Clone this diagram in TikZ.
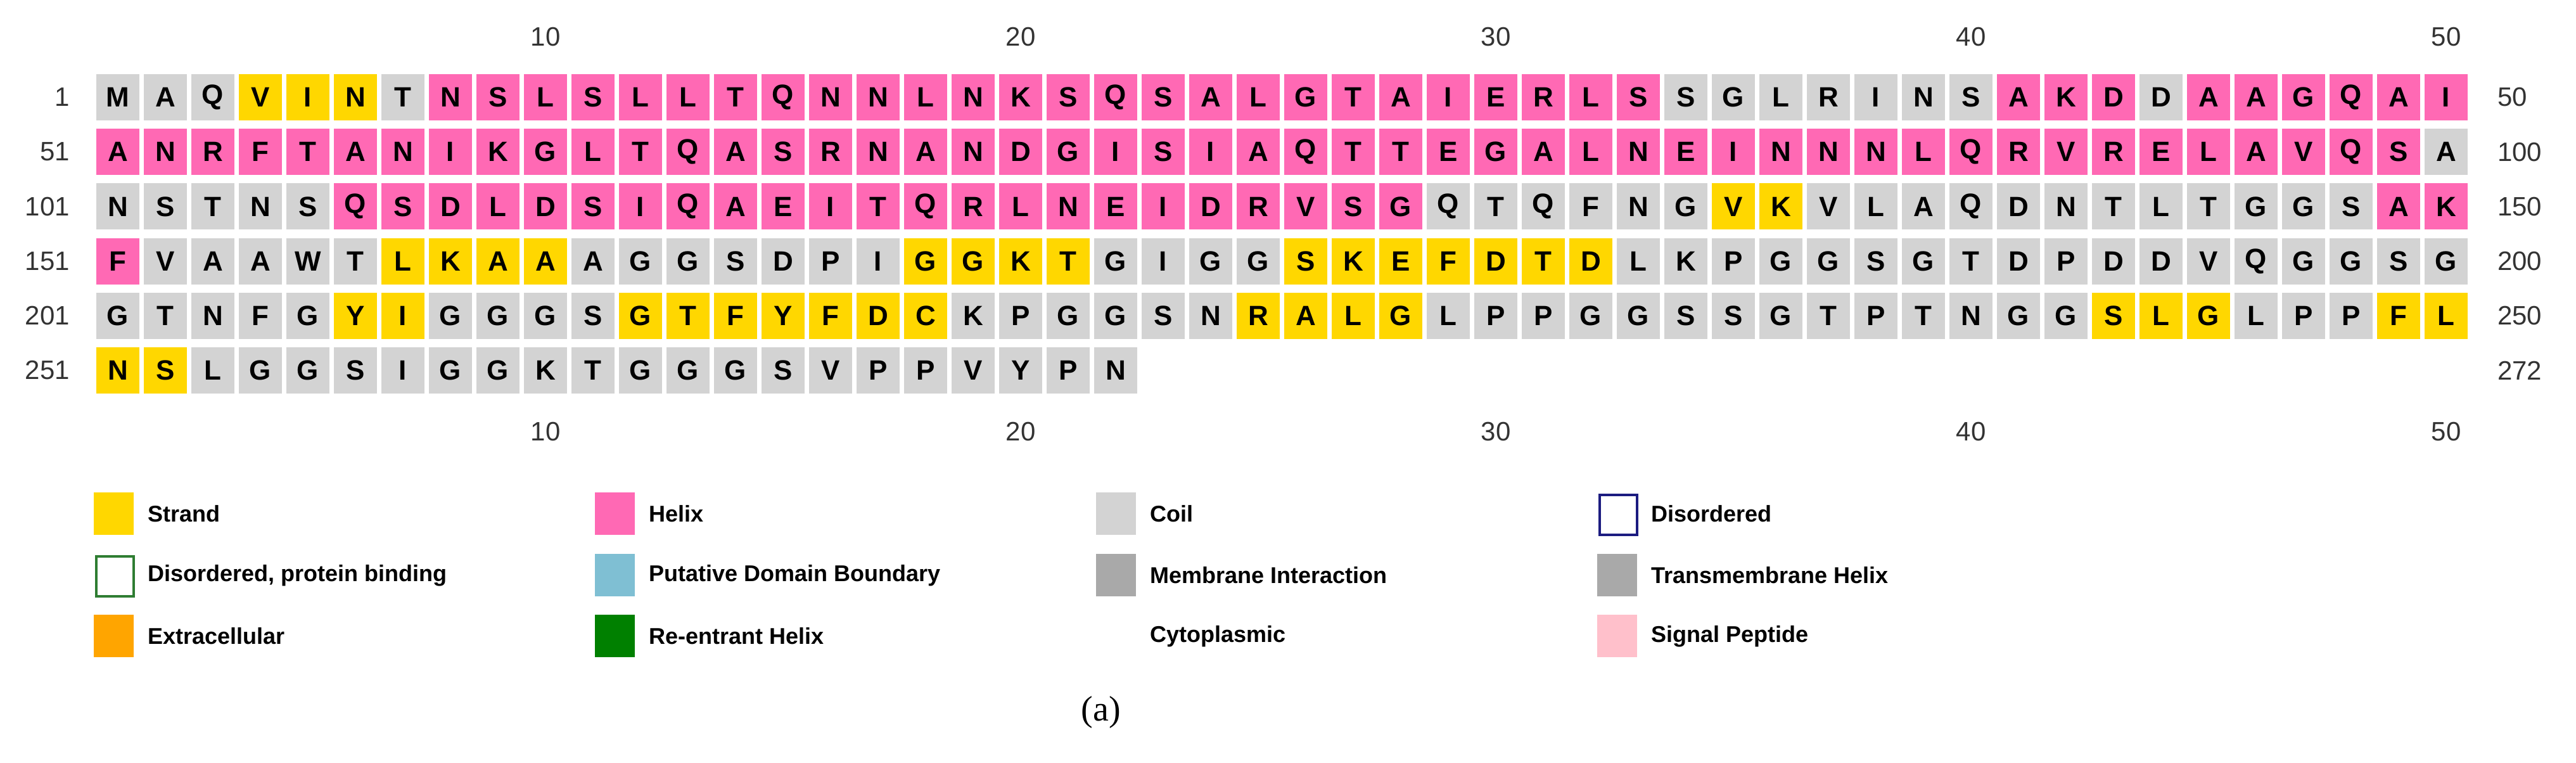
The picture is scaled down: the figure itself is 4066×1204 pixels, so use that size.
\documentclass[tikz,border=0pt]{standalone}
\usepackage{fontspec}
\setmainfont{Liberation Sans}
\newfontfamily\serifA{Liberation Serif}
\definecolor{strandc}{HTML}{FFD700}
\definecolor{helixc}{HTML}{FF69B4}
\definecolor{coilc}{HTML}{D3D3D3}
\definecolor{numc}{HTML}{333333}
\definecolor{navyc}{HTML}{1C1C80}
\definecolor{greenb}{HTML}{2E7D32}
\definecolor{putc}{HTML}{7FBFD3}
\definecolor{memc}{HTML}{A9A9A9}
\definecolor{extc}{HTML}{FFA500}
\definecolor{reentc}{HTML}{008000}
\definecolor{sigc}{HTML}{FFC0CB}
\tikzset{
 cell/.style={minimum width=68pt,minimum height=73pt,inner sep=0pt,font=\fontsize{44}{44}\selectfont\bfseries},
 c/.style={cell,fill=coilc},
 h/.style={cell,fill=helixc},
 e/.style={cell,fill=strandc},
 num/.style={font=\fontsize{42}{42}\selectfont,text=numc,inner sep=0pt},
 sw/.style={minimum width=63pt,minimum height=67pt,inner sep=0pt,anchor=north west},
 lg/.style={font=\fontsize{36}{36}\selectfont\bfseries,anchor=west,inner sep=0pt}
}
\newcommand{\seqrow}[2]{%
 \foreach \l/\t [count=\j] in {#2}{
  \node[\t] (r#1c\j) at ({186+75*(\j-1)},{153.5+86.2*(#1-1)}) {\l};
 }}
\begin{document}
\begin{tikzpicture}[x=1pt,y=-1pt]
\useasboundingbox (0,0) rectangle (4066,1204);
\fill[white] (0,0) rectangle (4066,1204);
\seqrow{1}{M/c,A/c,Q/c,V/e,I/e,N/e,T/c,N/h,S/h,L/h,S/h,L/h,L/h,T/h,Q/h,N/h,N/h,L/h,N/h,K/h,S/h,Q/h,S/h,A/h,L/h,G/h,T/h,A/h,I/h,E/h,R/h,L/h,S/h,S/c,G/c,L/c,R/c,I/c,N/c,S/c,A/h,K/h,D/h,D/c,A/h,A/h,G/h,Q/h,A/h,I/h}
\seqrow{2}{A/h,N/h,R/h,F/h,T/h,A/h,N/h,I/h,K/h,G/h,L/h,T/h,Q/h,A/h,S/h,R/h,N/h,A/h,N/h,D/h,G/h,I/h,S/h,I/h,A/h,Q/h,T/h,T/h,E/h,G/h,A/h,L/h,N/h,E/h,I/h,N/h,N/h,N/h,L/h,Q/h,R/h,V/h,R/h,E/h,L/h,A/h,V/h,Q/h,S/h,A/c}
\seqrow{3}{N/c,S/c,T/c,N/c,S/c,Q/h,S/h,D/h,L/h,D/h,S/h,I/h,Q/h,A/h,E/h,I/h,T/h,Q/h,R/h,L/h,N/h,E/h,I/h,D/h,R/h,V/h,S/h,G/h,Q/c,T/c,Q/c,F/c,N/c,G/c,V/e,K/e,V/c,L/c,A/c,Q/c,D/c,N/c,T/c,L/c,T/c,G/c,G/c,S/c,A/h,K/h}
\seqrow{4}{F/h,V/c,A/c,A/c,W/c,T/c,L/e,K/e,A/e,A/e,A/c,G/c,G/c,S/c,D/c,P/c,I/c,G/e,G/e,K/e,T/e,G/c,I/c,G/c,G/c,S/e,K/e,E/e,F/e,D/e,T/e,D/e,L/c,K/c,P/c,G/c,G/c,S/c,G/c,T/c,D/c,P/c,D/c,D/c,V/c,Q/c,G/c,G/c,S/c,G/c}
\seqrow{5}{G/c,T/c,N/c,F/c,G/c,Y/e,I/e,G/c,G/c,G/c,S/c,G/e,T/e,F/e,Y/e,F/e,D/e,C/e,K/c,P/c,G/c,G/c,S/c,N/c,R/e,A/e,L/e,G/e,L/c,P/c,P/c,G/c,G/c,S/c,S/c,G/c,T/c,P/c,T/c,N/c,G/c,G/c,S/e,L/e,G/e,L/c,P/c,P/c,F/e,L/e}
\seqrow{6}{N/e,S/e,L/c,G/c,G/c,S/c,I/c,G/c,G/c,K/c,T/c,G/c,G/c,G/c,S/c,V/c,P/c,P/c,V/c,Y/c,P/c,N/c}
\foreach \k in {10,20,30,40,50}{
 \node[num] (top\k) at ({186+75*(\k-1)},58) {\k};
 \node[num] (bot\k) at ({186+75*(\k-1)},681) {\k};
}
\foreach \a/\b [count=\r] in {1/50,51/100,101/150,151/200,201/250,251/272}{
 \node[num,anchor=east] (ln\r) at (110,{153.5+86.2*(\r-1)}) {\a};
 \node[num,anchor=west] (rn\r) at (3942,{153.5+86.2*(\r-1)}) {\b};
}
% legend
\node[sw,fill=strandc] (s1) at (148,777) {};
\node[lg] (t1) at (233,811) {Strand};
\node[sw,fill=helixc] (s2) at (939,777) {};
\node[lg] (t2) at (1024,811) {Helix};
\node[sw,fill=coilc] (s3) at (1730,777) {};
\node[lg] (t3) at (1815,811) {Coil};
\node[sw,draw=navyc,line width=4pt,minimum width=59pt,minimum height=63pt] (s4) at (2523,779) {};
\node[lg] (t4) at (2606,811) {Disordered};
\node[sw,draw=greenb,line width=4pt,minimum width=59pt,minimum height=63pt] (s5) at (150,876) {};
\node[lg] (t5) at (233,908) {Disordered, protein binding};
\node[sw,fill=putc] (s6) at (939,874) {};
\node[lg] (t6) at (1024,908) {Putative Domain Boundary};
\node[sw,fill=memc] (s7) at (1730,874) {};
\node[lg] (t7) at (1815,908) {Membrane Interaction};
\node[sw,fill=memc] (s8) at (2521,874) {};
\node[lg] (t8) at (2606,908) {Transmembrane Helix};
\node[sw,fill=extc] (s9) at (148,970) {};
\node[lg] (t9) at (233,1004) {Extracellular};
\node[sw,fill=reentc] (s10) at (939,970) {};
\node[lg] (t10) at (1024,1004) {Re-entrant Helix};
\node[lg] (t11) at (1815,1004) {Cytoplasmic};
\node[sw,fill=sigc] (s12) at (2521,970) {};
\node[lg] (t12) at (2606,1004) {Signal Peptide};
\node[font=\serifA\fontsize{56}{56}\selectfont,inner sep=0pt] (cap) at (1738,1124) {(a)};
\end{tikzpicture}
\end{document}
